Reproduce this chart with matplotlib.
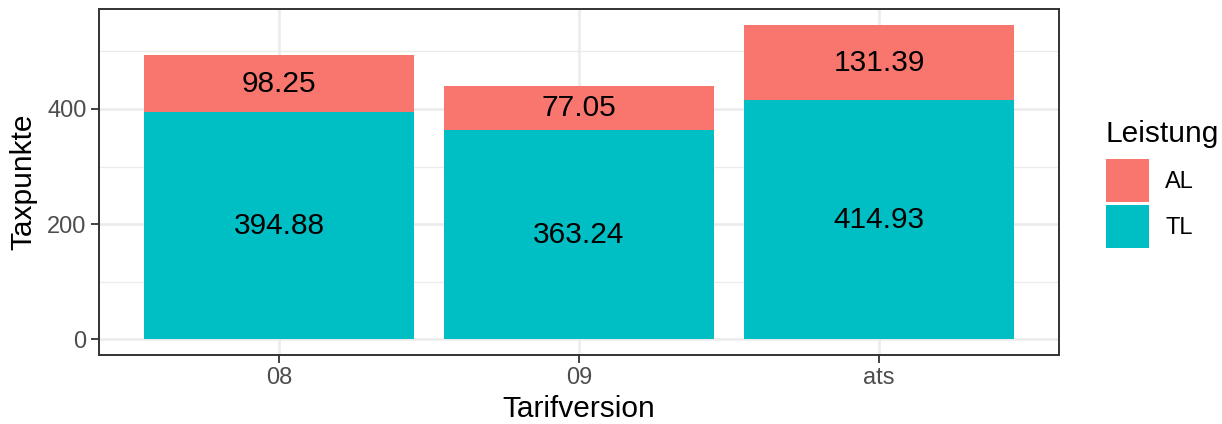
import matplotlib.pyplot as plt
import numpy as np
from matplotlib.patches import Patch

# data
versions = ["08", "09", "ats"]
tl_values = [394.88, 363.24, 414.93]
al_values = [98.25, 77.05, 131.39]

TL_COLOR = "#00BFC4"
AL_COLOR = "#F8766D"

plt.rcParams['font.family'] = ['Liberation Sans', 'DejaVu Sans']

fig = plt.figure(figsize=(12.22, 4.24), dpi=100)
ax = fig.add_axes([99 / 1222, 1 - 355 / 424, 960 / 1222, 346 / 424])

x = np.arange(1, len(versions) + 1)
tl = np.array(tl_values)
al = np.array(al_values)

ax.bar(x, tl, width=0.9, color=TL_COLOR, zorder=2)
ax.bar(x, al, width=0.9, bottom=tl, color=AL_COLOR, zorder=2)

# labels in the middle of each segment
for xi, t, a in zip(x, tl, al):
    ax.text(xi, t / 2, f"{t:.2f}", ha="center", va="center", fontsize=21.5, zorder=3)
    ax.text(xi, t + a / 2, f"{a:.2f}", ha="center", va="center", fontsize=21.5, zorder=3)

top = (tl + al).max()
ax.set_ylim(-0.05 * top, top * 1.05)
ax.set_xlim(0.4, 3.6)

ax.set_xticks(x)
ax.set_xticklabels(versions)
ax.set_yticks([0, 200, 400])
ax.set_yticks([100, 300, 500], minor=True)
ax.tick_params(axis="both", which="major", labelsize=17, colors="#333333",
               length=6, width=1.3, labelcolor="#4D4D4D", pad=3)
ax.tick_params(axis="both", which="minor", length=0)

ax.grid(True, which="major", color="#EBEBEB", linewidth=1.8, zorder=0)
ax.grid(True, which="minor", axis="y", color="#EBEBEB", linewidth=0.9, zorder=0)
ax.set_axisbelow(True)
for s in ax.spines.values():
    s.set_color("#333333")
    s.set_linewidth(1.4)

ax.set_xlabel("Tarifversion", fontsize=21.5, labelpad=4)
ax.set_ylabel("Taxpunkte", fontsize=21.5, labelpad=7)

# legend: title drawn separately so the gap to the keys matches
fig.text(1105 / 1222, 1 - 142 / 424, "Leistung", fontsize=21.5, va="baseline", ha="left")
handles = [Patch(facecolor=AL_COLOR, label="AL"), Patch(facecolor=TL_COLOR, label="TL")]
leg = fig.legend(handles=handles, loc="upper left",
                 bbox_to_anchor=(1106 / 1222, 1 - 159 / 424), frameon=False,
                 fontsize=17, handlelength=1.82, handleheight=2.43,
                 handletextpad=0.68, labelspacing=0.12,
                 borderpad=0, borderaxespad=0)

fig.savefig("out.png", dpi=100)
